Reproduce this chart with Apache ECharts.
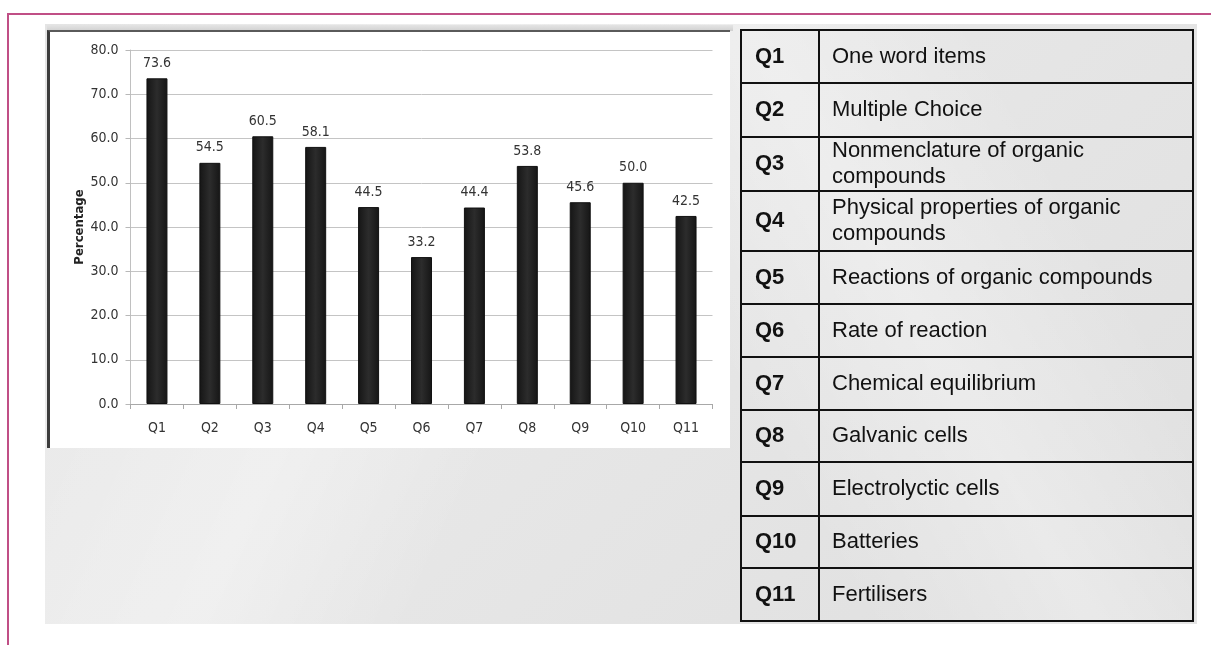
<!DOCTYPE html>
<html>
<head>
<meta charset="utf-8">
<script src="https://cdn.jsdelivr.net/npm/echarts@6.0.0/dist/echarts.min.js"></script>
<style>
html,body{margin:0;padding:0;width:1211px;height:645px;background:#fff;overflow:hidden;}
#bg{position:absolute;left:45px;top:24px;width:1152px;height:600px;
  background:
   linear-gradient(115deg, rgba(255,255,255,0) 0%, rgba(255,255,255,0.35) 30%, rgba(255,255,255,0) 45%),
   linear-gradient(60deg, rgba(255,255,255,0.0) 55%, rgba(255,255,255,0.3) 70%, rgba(255,255,255,0) 85%),
   linear-gradient(135deg,#e4e4e4 0%,#e8e8e8 40%,#dfdfdf 100%);}
#panelShade{position:absolute;left:47px;top:25px;width:686px;height:6px;background:linear-gradient(#e4e4e4,#d0d0d0);}
#panel{position:absolute;left:47px;top:30px;width:683px;height:418px;background:#fff;
  border-left:3px solid #3c3c3c;border-top:2px solid #5a5a5a;box-sizing:border-box;}
#pinkTop{position:absolute;left:7px;top:13px;width:1204px;height:2px;background:#c04f86;}
#pinkLeft{position:absolute;left:7px;top:13px;width:2px;height:632px;background:#c04f86;}
#chart{position:absolute;left:0;top:0;width:1211px;height:645px;}
</style>
</head>
<body>
<div id="pinkTop"></div>
<div id="pinkLeft"></div>
<div id="bg"></div>
<div id="panelShade"></div>
<div id="panel"></div>
<div id="chart"></div>
<script>
// ---- data ----
const categories = ['Q1','Q2','Q3','Q4','Q5','Q6','Q7','Q8','Q9','Q10','Q11'];
const percentages = [73.6, 54.5, 60.5, 58.1, 44.5, 33.2, 44.4, 53.8, 45.6, 50.0, 42.5];
const yAxisName = 'Percentage';
const tableCodes = ['Q1','Q2','Q3','Q4','Q5','Q6','Q7','Q8','Q9','Q10','Q11'];
const tableTopics = [
  'One word items',
  'Multiple Choice',
  'Nonmenclature of organic\ncompounds',
  'Physical properties of organic\ncompounds',
  'Reactions of organic compounds',
  'Rate of reaction',
  'Chemical equilibrium',
  'Galvanic cells',
  'Electrolyctic cells',
  'Batteries',
  'Fertilisers'
];

// ---- layout (table geometry) ----
const TBL = {x: 741, y: 30, w: 452, divX: 819, codePad: 14, topicPad: 13};
const rowHeights = [53, 54, 54, 60, 53, 53, 53, 52, 54, 52, 53];

const smallFont = '"DejaVu Sans Condensed", "DejaVu Sans", sans-serif';
const tableFont = '"Liberation Sans", Arial, sans-serif';

const graphics = [];
let yCur = TBL.y;
const totalH = rowHeights.reduce((a, b) => a + b, 0);
tableCodes.forEach((code, i) => {
  const h = rowHeights[i];
  const mid = yCur + h / 2;
  graphics.push({
    type: 'text', z: 10,
    style: {text: code, x: TBL.x + TBL.codePad, y: mid, fill: '#111',
      font: 'bold 22px ' + tableFont, verticalAlign: 'middle', align: 'left'}
  });
  graphics.push({
    type: 'text', z: 10,
    style: {text: tableTopics[i], x: TBL.divX + TBL.topicPad, y: mid, fill: '#111',
      font: '22px ' + tableFont, verticalAlign: 'middle', align: 'left', lineHeight: 26}
  });
  if (i > 0) {
    graphics.push({
      type: 'line', z: 10,
      shape: {x1: TBL.x, y1: yCur, x2: TBL.x + TBL.w, y2: yCur},
      style: {stroke: '#111', lineWidth: 2}
    });
  }
  yCur += h;
});
graphics.push({
  type: 'rect', z: 10,
  shape: {x: TBL.x, y: TBL.y, width: TBL.w, height: totalH},
  style: {fill: 'rgba(0,0,0,0)', stroke: '#111', lineWidth: 2}
});
graphics.push({
  type: 'line', z: 10,
  shape: {x1: TBL.divX, y1: TBL.y, x2: TBL.divX, y2: TBL.y + totalH},
  style: {stroke: '#111', lineWidth: 2}
});

const chart = echarts.init(document.getElementById('chart'), null, {renderer: 'canvas'});
chart.setOption({
  backgroundColor: 'transparent',
  animation: false,
  grid: {left: 130.5, right: 498.5, top: 50, bottom: 241, containLabel: false, outerBoundsMode: 'none'},
  xAxis: {
    type: 'category',
    data: categories,
    axisLine: {show: true, lineStyle: {color: '#a8a8a8', width: 1}},
    axisTick: {show: true, length: 5, alignWithLabel: false, lineStyle: {color: '#a8a8a8'}},
    axisLabel: {color: '#333', fontFamily: smallFont, fontSize: 14, margin: 17}
  },
  yAxis: {
    type: 'value',
    min: 0, max: 80, interval: 10,
    name: yAxisName,
    nameLocation: 'middle',
    nameGap: 44,
    nameRotate: 90,
    nameTextStyle: {color: '#222', fontFamily: smallFont, fontWeight: 'bold', fontSize: 13},
    axisLine: {show: true, lineStyle: {color: '#c0c0c0', width: 1}},
    axisTick: {show: true, length: 5, lineStyle: {color: '#b8b8b8'}},
    axisLabel: {color: '#333', fontFamily: smallFont, fontSize: 14, margin: 12,
      formatter: v => v.toFixed(1)},
    splitLine: {show: true, lineStyle: {color: '#c4c4c4', width: 1}}
  },
  series: [{
    type: 'bar',
    data: percentages,
    barWidth: 21,
    itemStyle: {
      color: new echarts.graphic.LinearGradient(0, 0, 1, 0, [
        {offset: 0, color: '#151515'},
        {offset: 0.5, color: '#2c2c2c'},
        {offset: 1, color: '#151515'}
      ]),
      borderColor: '#111', borderWidth: 1
    },
    label: {
      show: true, position: 'top', distance: 8,
      color: '#333', fontFamily: smallFont, fontSize: 14,
      formatter: p => p.value.toFixed(1)
    }
  }],
  graphic: {elements: graphics}
});
</script>
</body>
</html>
